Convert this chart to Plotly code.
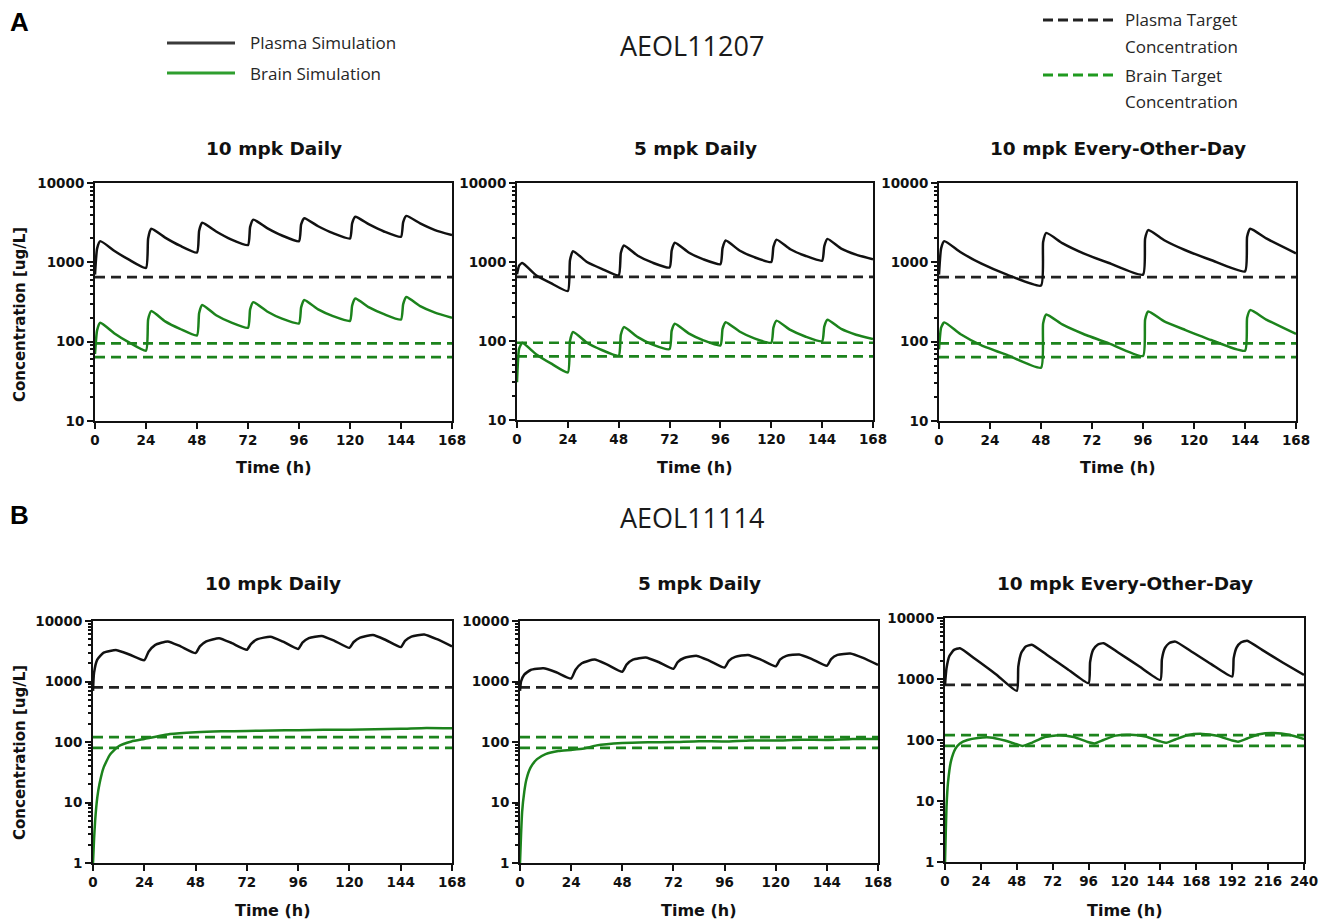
import plotly.graph_objects as go

# ---------------- DATA ----------------
# Panel A (AEOL11207)
A1_t = [0, 1, 2.5, 9, 16, 24, 25, 26.5, 33, 40, 48, 49, 50.5, 57, 64, 72, 73, 74.5, 81, 88,
        96, 97, 98.5, 105, 112, 120, 121, 122.5, 129, 136, 144, 145, 146.5, 153, 160, 168]
A1_plasma = [700, 1500, 1850, 1400, 1080, 850, 2000, 2650, 2050, 1620, 1330, 2500, 3150, 2450, 1950,
             1650, 2800, 3450, 2700, 2180, 1850, 3000, 3600, 2850, 2330, 2000, 3100, 3750, 3000, 2450,
             2100, 3200, 3850, 3100, 2550, 2200]
A1_brain = [70, 140, 173, 128, 98, 77, 190, 243, 180, 145, 120, 230, 290, 215, 175, 150, 255, 315, 240, 195,
            170, 270, 335, 255, 210, 183, 285, 350, 270, 222, 190, 295, 365, 280, 232, 200]

A2_t = A1_t
A2_plasma = [700, 900, 970, 680, 540, 430, 1050, 1370, 1000, 820, 680, 1300, 1620, 1200, 980,
             850, 1400, 1750, 1320, 1080, 940, 1500, 1870, 1400, 1150, 1000, 1550, 1920, 1450, 1200,
             1040, 1580, 1960, 1480, 1240, 1080]
A2_brain = [30, 80, 95, 68, 52, 40, 100, 130, 95, 77, 65, 120, 150, 112, 90, 79, 135, 165, 125, 102,
            88, 142, 173, 132, 108, 95, 148, 181, 138, 114, 99, 152, 186, 142, 120, 106]

A3_t = [0, 1, 2.5, 10, 20, 32, 48, 49, 50.5, 58, 68, 80, 96, 97, 98.5, 106, 116, 128,
        144, 145, 146.5, 154, 168]
A3_plasma = [700, 1500, 1850, 1350, 960, 700, 510, 1800, 2350, 1750, 1300, 980, 700, 2000, 2550, 1900, 1420, 1070,
             770, 2100, 2650, 2000, 1300]
A3_brain = [80, 150, 175, 125, 90, 68, 47, 170, 220, 165, 125, 95, 66, 190, 240, 180, 140, 105,
            77, 200, 250, 190, 125]

A_plasma_target = 650
A_brain_targets = [95, 64]

# Panel B (AEOL11114)
B1_t = [0, 0.5, 2, 5, 11, 17, 24, 26, 29, 35, 41, 48, 50, 53, 59, 65, 72, 74, 77, 83, 89,
        96, 98, 101, 107, 113, 120, 122, 125, 131, 137, 144, 146, 149, 155, 161, 168]
B1_plasma = [700, 1400, 2300, 3000, 3300, 2800, 2250, 3100, 4000, 4600, 3800, 2950, 3800, 4600, 5200, 4300,
             3350, 4200, 5000, 5500, 4550, 3450, 4400, 5200, 5650, 4700, 3600, 4500, 5300, 5850, 4850,
             3700, 4700, 5500, 6000, 5000, 3800]
B1_bt = [0, 0.5, 1, 2, 3, 5, 8, 12, 18, 24, 36, 48, 60, 72, 84, 96, 108, 120, 132, 144, 156, 168]
B1_brain = [1, 2.5, 5, 12, 20, 38, 62, 85, 102, 112, 135, 145, 150, 152, 155, 157, 160, 160, 163, 165, 170, 168]

B2_t = B1_t
B2_plasma = [700, 1000, 1300, 1550, 1650, 1420, 1120, 1550, 2000, 2300, 1900, 1450, 1900, 2300, 2500, 2100,
             1620, 2100, 2450, 2650, 2200, 1700, 2200, 2550, 2750, 2300, 1780, 2300, 2650, 2800, 2350,
             1820, 2350, 2750, 2900, 2450, 1880]
B2_bt = [0, 0.5, 1, 2, 3, 5, 8, 12, 18, 24, 30, 36, 48, 60, 72, 84, 96, 108, 120, 132, 144, 156, 168]
B2_brain = [1, 3, 7, 15, 24, 38, 52, 63, 71, 74, 78, 88, 96, 99, 100, 103, 102, 106, 106, 109, 108, 112, 112]

B3_t = [0, 1, 3, 6, 10, 20, 34, 48, 49, 51, 54, 58, 68, 82, 96, 97, 99, 102, 106, 116, 130,
        144, 145, 147, 150, 154, 164, 178, 192, 193, 195, 198, 202, 212, 226, 240]
B3_plasma = [800, 1500, 2400, 3000, 3200, 2150, 1200, 640, 1600, 2700, 3400, 3650, 2500, 1450,
             855, 1900, 3000, 3650, 3870, 2700, 1600, 970, 2100, 3200, 3900, 4100, 2900, 1750,
             1100, 2200, 3300, 4000, 4250, 3000, 1850, 1170]
B3_bt = [0, 0.5, 1, 2, 4, 7, 10, 15, 22, 30, 40, 48, 52, 58, 66, 76, 86, 96, 100, 106, 114, 124, 134,
         144, 148, 154, 162, 172, 182, 192, 196, 202, 210, 220, 230, 240]
B3_brain = [1, 3, 8, 20, 45, 72, 88, 100, 108, 110, 98, 85, 80, 90, 110, 120, 112, 92, 88, 100, 118, 122, 114,
            95, 90, 102, 120, 126, 117, 98, 94, 106, 124, 130, 122, 104]

B_plasma_target = 800
B_brain_targets = [120, 80]

panel_titles = ["10 mpk Daily", "5 mpk Daily", "10 mpk Every-Other-Day"]
legend_labels = ["Plasma Simulation", "Brain Simulation", "Plasma Target", "Concentration",
                 "Brain Target", "Concentration"]
compound_names = ["AEOL11207", "AEOL11114"]
x_ticks_168 = [0, 24, 48, 72, 96, 120, 144, 168]
x_ticks_240 = [0, 24, 48, 72, 96, 120, 144, 168, 192, 216, 240]

# ---------------- LAYOUT ----------------
W, H = 1330, 922
BLACK = "#111111"
GREEN = "#1c831c"
TICKFONT = dict(family="DejaVu Sans", size=13.5, color="#111", weight="bold")
LABFONT = dict(family="DejaVu Sans", size=16, color="#111", weight="bold")


def fx(px):
    return px / W


def fy(py):
    return 1 - py / H


panels = [
    dict(t=A1_t, p=A1_plasma, bt=A1_t, b=A1_brain, pt=A_plasma_target, btg=A_brain_targets,
         xd=(95, 452), yd=(183, 421), xmax=168, xt=x_ticks_168, yr=(1, 4), title=panel_titles[0]),
    dict(t=A2_t, p=A2_plasma, bt=A2_t, b=A2_brain, pt=A_plasma_target, btg=A_brain_targets,
         xd=(517, 873), yd=(183, 420), xmax=168, xt=x_ticks_168, yr=(1, 4), title=panel_titles[1]),
    dict(t=A3_t, p=A3_plasma, bt=A3_t, b=A3_brain, pt=A_plasma_target, btg=A_brain_targets,
         xd=(939, 1296), yd=(183, 421), xmax=168, xt=x_ticks_168, yr=(1, 4), title=panel_titles[2]),
    dict(t=B1_t, p=B1_plasma, bt=B1_bt, b=B1_brain, pt=B_plasma_target, btg=B_brain_targets,
         xd=(93, 452), yd=(621, 863), xmax=168, xt=x_ticks_168, yr=(0, 4), title=panel_titles[0]),
    dict(t=B2_t, p=B2_plasma, bt=B2_bt, b=B2_brain, pt=B_plasma_target, btg=B_brain_targets,
         xd=(520, 878), yd=(621, 863), xmax=168, xt=x_ticks_168, yr=(0, 4), title=panel_titles[1]),
    dict(t=B3_t, p=B3_plasma, bt=B3_bt, b=B3_brain, pt=B_plasma_target, btg=B_brain_targets,
         xd=(945, 1304), yd=(618, 862), xmax=240, xt=x_ticks_240, yr=(0, 4), title=panel_titles[2]),
]

fig = go.Figure()
layout = dict(width=W, height=H, margin=dict(l=0, r=0, t=0, b=0, autoexpand=False),
              paper_bgcolor="white", plot_bgcolor="white", showlegend=False)
annotations = []
shapes = []

for i, pn in enumerate(panels, start=1):
    xa = "x" if i == 1 else f"x{i}"
    ya = "y" if i == 1 else f"y{i}"
    xmax = pn["xmax"]
    # targets
    fig.add_trace(go.Scatter(x=[0, xmax], y=[pn["pt"], pn["pt"]], mode="lines", xaxis=xa, yaxis=ya,
                             line=dict(color="#222", width=2.7, dash="10px,6px"), hoverinfo="skip"))
    for tg in pn["btg"]:
        fig.add_trace(go.Scatter(x=[0, xmax], y=[tg, tg], mode="lines", xaxis=xa, yaxis=ya,
                                 line=dict(color=GREEN, width=2.7, dash="10px,6px"), hoverinfo="skip"))
    fig.add_trace(go.Scatter(x=pn["t"], y=pn["p"], mode="lines", xaxis=xa, yaxis=ya,
                             line=dict(color=BLACK, width=2.5, shape="spline", smoothing=0.5), name="Plasma"))
    fig.add_trace(go.Scatter(x=pn["bt"], y=pn["b"], mode="lines", xaxis=xa, yaxis=ya,
                             line=dict(color=GREEN, width=2.5, shape="spline", smoothing=0.5), name="Brain"))

    lo, hi = pn["yr"]
    major = [10 ** k for k in range(lo, hi + 1)]
    minor = [m * 10 ** k for k in range(lo, hi) for m in range(2, 10)]
    key_x = "xaxis" if i == 1 else f"xaxis{i}"
    key_y = "yaxis" if i == 1 else f"yaxis{i}"
    layout[key_x] = dict(domain=[fx(pn["xd"][0]), fx(pn["xd"][1])], anchor=ya, range=[0, xmax],
                         tickmode="array", tickvals=pn["xt"], ticks="outside", ticklen=6, tickwidth=2,
                         tickcolor="#111", showline=True, linecolor="#111", linewidth=2, mirror=True,
                         showgrid=False, zeroline=False, tickfont=TICKFONT, automargin=False)
    layout[key_y] = dict(domain=[fy(pn["yd"][1]), fy(pn["yd"][0])], anchor=xa, type="log",
                         range=[lo, hi], tickmode="array", tickvals=major,
                         ticktext=[str(v) for v in major], ticks="outside", ticklen=6, tickwidth=2,
                         tickcolor="#111", showline=True, linecolor="#111", linewidth=2, mirror=True,
                         showgrid=False, zeroline=False, tickfont=TICKFONT, automargin=False,
                         minor=dict(tickvals=minor, ticks="outside", ticklen=3, tickwidth=1.5,
                                    tickcolor="#111", showgrid=False))
    cx = (pn["xd"][0] + pn["xd"][1]) / 2
    ty = 148 if i <= 3 else 583
    annotations.append(dict(text=pn["title"], x=fx(cx), y=fy(ty), xref="paper", yref="paper",
                            showarrow=False, xanchor="center", yanchor="middle",
                            font=dict(family="DejaVu Sans", size=18.5, color="#111", weight="bold")))
    ly = 467 if i <= 3 else 910
    annotations.append(dict(text="Time (h)", x=fx(cx), y=fy(ly), xref="paper", yref="paper",
                            showarrow=False, xanchor="center", yanchor="middle", font=LABFONT))

# y-axis titles
for yc in (315, 753):
    annotations.append(dict(text="Concentration [ug/L]", x=fx(20), y=fy(yc), xref="paper", yref="paper",
                            showarrow=False, textangle=-90, xanchor="center", yanchor="middle",
                            font=dict(family="DejaVu Sans", size=15, color="#111", weight="bold")))

# panel letters and compound names
annotations.append(dict(text="A", x=fx(8), y=fy(22), xref="paper", yref="paper", showarrow=False,
                        xanchor="left", yanchor="middle",
                        font=dict(family="Liberation Sans", size=26, color="#000", weight="bold")))
annotations.append(dict(text="B", x=fx(8), y=fy(515), xref="paper", yref="paper", showarrow=False,
                        xanchor="left", yanchor="middle",
                        font=dict(family="Liberation Sans", size=26, color="#000", weight="bold")))
for name, yc in zip(compound_names, (45, 517)):
    annotations.append(dict(text=name, x=fx(692), y=fy(yc), xref="paper", yref="paper", showarrow=False,
                            xanchor="center", yanchor="middle",
                            font=dict(family="Open Sans", size=27, color="#1a1a1a")))

# legend (drawn as swatches + text)
LEGFONT = dict(family="Open Sans", size=17, color="#262626")
shapes.append(dict(type="line", xref="paper", yref="paper", x0=fx(167), x1=fx(235), y0=fy(43), y1=fy(43),
                   line=dict(color="#3a3a3a", width=3)))
shapes.append(dict(type="line", xref="paper", yref="paper", x0=fx(167), x1=fx(235), y0=fy(73), y1=fy(73),
                   line=dict(color="#2e9e2e", width=3)))
annotations.append(dict(text=legend_labels[0], x=fx(248), y=fy(43), xref="paper", yref="paper",
                        showarrow=False, xanchor="left", yanchor="middle", font=LEGFONT))
annotations.append(dict(text=legend_labels[1], x=fx(248), y=fy(73), xref="paper", yref="paper",
                        showarrow=False, xanchor="left", yanchor="middle", font=LEGFONT))
shapes.append(dict(type="line", xref="paper", yref="paper", x0=fx(1043), x1=fx(1115), y0=fy(20), y1=fy(20),
                   line=dict(color="#222", width=3, dash="10px,5px")))
shapes.append(dict(type="line", xref="paper", yref="paper", x0=fx(1043), x1=fx(1115), y0=fy(75), y1=fy(75),
                   line=dict(color="#1f9a1f", width=3, dash="10px,5px")))
for txt, yc in zip(legend_labels[2:], (20, 47, 75, 101)):
    annotations.append(dict(text=txt, x=fx(1123), y=fy(yc), xref="paper", yref="paper",
                            showarrow=False, xanchor="left", yanchor="middle", font=LEGFONT))

layout["annotations"] = annotations
layout["shapes"] = shapes
fig.update_layout(**layout)
fig.write_html("out.html", config={"displayModeBar": False},
               post_script="document.body.style.margin='0';document.body.style.overflow='hidden';")
